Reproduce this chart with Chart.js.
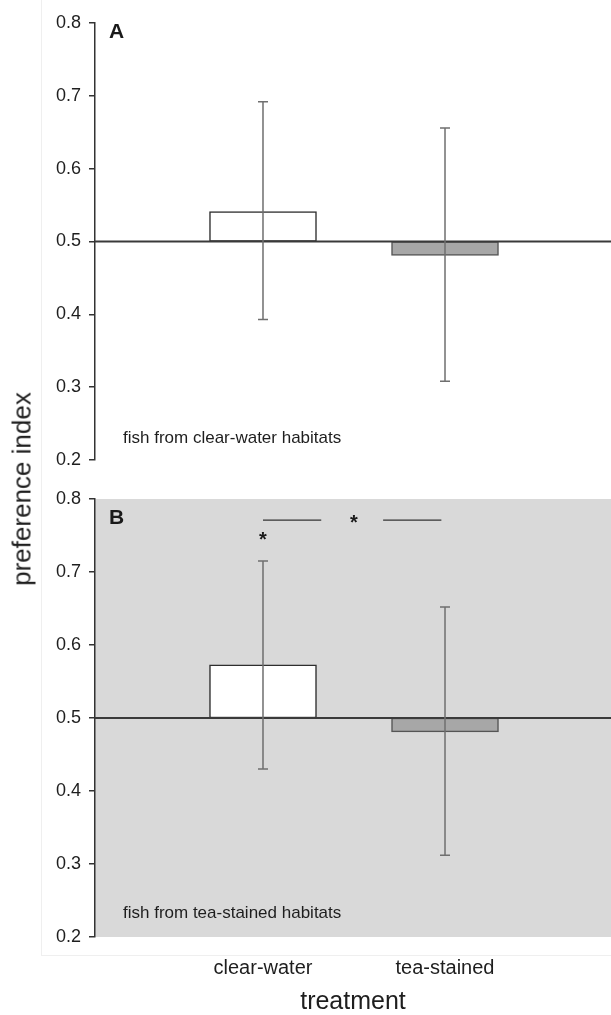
<!DOCTYPE html>
<html>
<head>
<meta charset="utf-8">
<script src="https://cdn.jsdelivr.net/npm/chart.js@4.4.1/dist/chart.umd.min.js"></script>
<style>
  body { margin: 0; background: #fff; width: 611px; height: 1015px; overflow: hidden; position: relative;
         font-family: "Liberation Sans", Arial, sans-serif; }
  #frame { position: absolute; left: 41px; top: -2px; width: 600px; height: 957px;
           border-left: 1px solid #efefef; border-bottom: 1px solid #efefef; }
  .panel { position: absolute; left: 0; width: 611px; }
  #wrapA { top: 0; height: 480px; }
  #wrapB { top: 480px; height: 535px; }
  #ytitle { position: absolute; left: 22px; top: 489px; transform: translate(-50%, -50%) rotate(-90deg);
            font-size: 26px; color: #1e1e1e; white-space: nowrap; }
</style>
</head>
<body>
<div id="frame"></div>
<div class="panel" id="wrapA"><canvas id="chartA"></canvas></div>
<div class="panel" id="wrapB"><canvas id="chartB"></canvas></div>
<div id="ytitle">preference index</div>
<script>
const categories = ["clear-water", "tea-stained"];
const catIndex = [0, 1];
const yTicks = [0.2, 0.3, 0.4, 0.5, 0.6, 0.7, 0.8];
const baseline = 0.5;

// A: fish from clear-water habitats
const meansA = [0.541, 0.481];
const lowA = [0.393, 0.308];
const highA = [0.692, 0.656];

// B: fish from tea-stained habitats
const meansB = [0.573, 0.481];
const lowB = [0.430, 0.312];
const highB = [0.715, 0.652];

// significance marks in B
const sigSpans = [[0, 0.32], [0.66, 0.98]];
const sigLevel = 0.771;
const starX = [0.5, 0];
const starY = [0.771, 0.748];

const FONT = '"Liberation Sans", Arial, sans-serif';

const panelDecor = {
  id: "panelDecor",
  beforeDraw(chart, args, opts) {
    if (!opts.background) return;
    const { ctx, chartArea: a } = chart;
    ctx.save();
    ctx.fillStyle = opts.background;
    ctx.fillRect(a.left, a.top, a.right - a.left, a.bottom - a.top);
    ctx.restore();
  },
  afterDatasetsDraw(chart, args, opts) {
    const { ctx, chartArea: a } = chart;
    const x = chart.scales.x, y = chart.scales.y;
    ctx.save();
    // reference line at 0.5
    const yb = y.getPixelForValue(baseline);
    ctx.strokeStyle = "#3a3a3a";
    ctx.lineWidth = 2;
    ctx.beginPath();
    ctx.moveTo(a.left, yb);
    ctx.lineTo(a.right, yb);
    ctx.stroke();

    // error bars
    ctx.strokeStyle = "#6f6f6f";
    ctx.lineWidth = 1.5;
    opts.low.forEach((lo, i) => {
      const px = x.getPixelForValue(catIndex[i]);
      const p1 = y.getPixelForValue(lo);
      const p2 = y.getPixelForValue(opts.high[i]);
      ctx.beginPath();
      ctx.moveTo(px, p1); ctx.lineTo(px, p2);
      ctx.moveTo(px - 5, p1); ctx.lineTo(px + 5, p1);
      ctx.moveTo(px - 5, p2); ctx.lineTo(px + 5, p2);
      ctx.stroke();
    });

    // significance lines + stars
    if (opts.sig) {
      ctx.strokeStyle = "#333";
      ctx.lineWidth = 1.3;
      const ys = y.getPixelForValue(sigLevel);
      sigSpans.forEach(s => {
        ctx.beginPath();
        ctx.moveTo(x.getPixelForValue(s[0]), ys);
        ctx.lineTo(x.getPixelForValue(s[1]), ys);
        ctx.stroke();
      });
      ctx.fillStyle = "#1a1a1a";
      ctx.font = "bold 20px " + FONT;
      ctx.textAlign = "center";
      ctx.textBaseline = "alphabetic";
      starX.forEach((sx, i) => {
        ctx.fillText("*", x.getPixelForValue(sx), y.getPixelForValue(starY[i]) + 9);
      });
    }

    // panel letter and group note
    ctx.fillStyle = "#1a1a1a";
    ctx.textAlign = "left";
    ctx.textBaseline = "alphabetic";
    ctx.font = "bold 21px " + FONT;
    ctx.fillText(opts.letter, a.left + 14, a.top + opts.letterDy);
    ctx.fillStyle = "#1e1e1e";
    ctx.font = "17px " + FONT;
    ctx.fillText(opts.note, a.left + 28, a.bottom - opts.noteDy);
    ctx.restore();
  }
};

function makePanel(id, means, low, high, extra) {
  const ctx = document.getElementById(id).getContext("2d");
  return new Chart(ctx, {
    type: "bar",
    data: {
      datasets: [{
        data: means.map((m, i) => ({ x: catIndex[i], y: [baseline, m] })),
        backgroundColor: ["#ffffff", "#a7a7a7"],
        borderColor: ["#2e2e2e", "#555555"],
        borderWidth: 1.5,
        borderSkipped: false,
        barThickness: 107,
      }],
    },
    options: {
      responsive: true,
      maintainAspectRatio: false,
      animation: false,
      layout: { padding: extra.padding },
      scales: {
        x: {
          type: "linear",
          min: -0.923,
          max: 1.912,
          offset: false,
          display: extra.showX,
          grid: { display: false, drawTicks: false },
          border: { display: false },
          afterBuildTicks: (scale) => { scale.ticks = catIndex.map(v => ({ value: v })); },
          afterFit: (scale) => { scale.height = extra.showX ? 78 : 0; },
          ticks: {
            padding: 19,
            color: "#1e1e1e",
            font: { family: FONT, size: 20 },
            callback: (v) => categories[v],
          },
          title: {
            display: true,
            text: "treatment",
            color: "#1e1e1e",
            font: { family: FONT, size: 25, lineHeight: 1 },
            padding: 0,
          },
        },
        y: {
          min: 0.2,
          max: 0.8,
          afterBuildTicks: (scale) => { scale.ticks = yTicks.map(v => ({ value: v })); },
          afterFit: (scale) => { scale.width = 95; },
          grid: { drawOnChartArea: false, drawTicks: true, tickLength: 6, color: "#333", lineWidth: 1.5 },
          border: { display: true, color: "#333", width: 1.5 },
          ticks: {
            padding: 8,
            color: "#1e1e1e",
            font: { family: FONT, size: 18 },
            callback: (v) => v.toFixed(1),
          },
        },
      },
      plugins: {
        legend: { display: false },
        tooltip: { enabled: false },
        panelDecor: Object.assign({ low: low, high: high }, extra.decor),
      },
    },
    plugins: [panelDecor],
  });
}

makePanel("chartA", meansA, lowA, highA, {
  padding: { top: 23, bottom: 20, left: 0, right: 0 },
  showX: false,
  decor: { letter: "A", letterDy: 15, note: "fish from clear-water habitats", noteDy: 17, sig: false },
});

makePanel("chartB", meansB, lowB, highB, {
  padding: { top: 19, bottom: 0, left: 0, right: 0 },
  showX: true,
  decor: { background: "#d9d9d9", letter: "B", letterDy: 25, note: "fish from tea-stained habitats", noteDy: 19, sig: true },
});
</script>
</body>
</html>
